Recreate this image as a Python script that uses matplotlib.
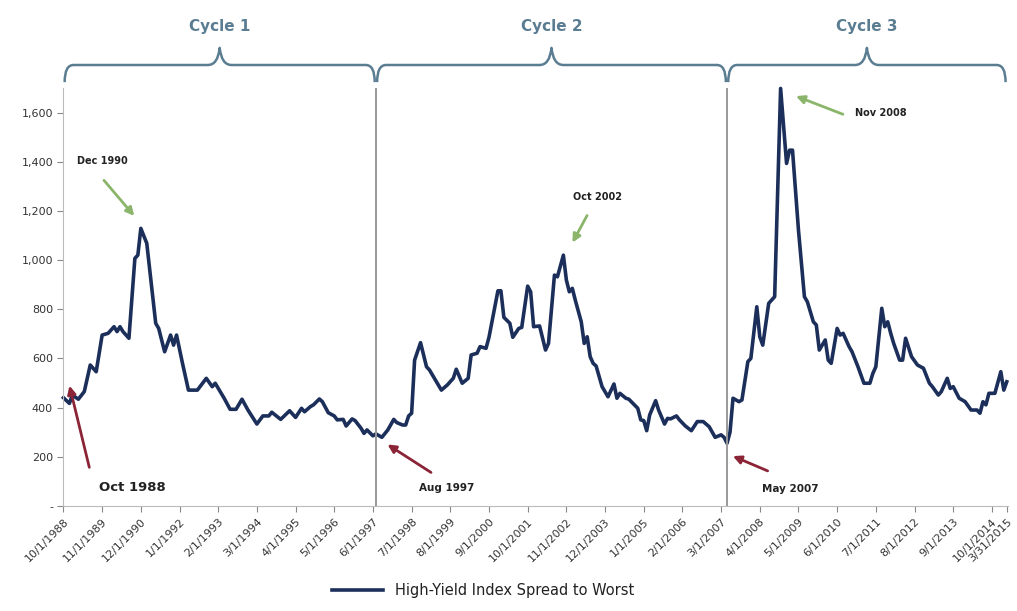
import numpy as np
import matplotlib
matplotlib.use("Agg")
import matplotlib.pyplot as plt
from matplotlib.path import Path
from matplotlib.patches import PathPatch
from matplotlib.transforms import blended_transform_factory

# maanden sinds 10/1988 en spread (bp)
months = [0, 2, 3, 5, 7, 9, 11, 13, 15, 17, 18, 19, 20, 22, 24, 25, 26, 28, 31, 32,
          34, 36, 37, 38, 40, 42, 45, 48, 50, 51, 54, 56, 58, 60, 62, 65, 67, 69, 70, 73,
          76, 78, 80, 81, 83, 84, 86, 87, 89, 91, 92, 94, 95, 97, 98, 100, 101, 102, 104, 105,
          107, 109, 111, 112, 114, 115, 116, 117, 118, 120, 122, 123, 125, 127, 129, 131, 132, 134, 136, 137,
          139, 140, 142, 143, 146, 147, 148, 150, 151, 153, 154, 156, 157, 158, 160, 162, 163, 165, 166, 168,
          169, 170, 171, 172, 174, 175, 176, 177, 178, 179, 181, 183, 185, 186, 187, 189, 190, 193, 194, 195,
          196, 197, 199, 200, 202, 203, 204, 206, 207, 209, 211, 213, 215, 217, 219, 221, 222, 223, 224, 225,
          227, 228, 230, 231, 233, 234, 235, 237, 239, 241, 243, 244, 245, 247, 249, 250, 252, 253, 254, 256,
          257, 258, 260, 261, 262, 264, 265, 267, 269, 271, 272, 273, 275, 276, 277, 278, 279, 281, 282, 283,
          285, 287, 289, 291, 292, 294, 295, 297, 298, 299, 301, 303, 305, 307, 308, 309, 310, 311, 313, 315,
          316, 317]
spread = [440, 417, 451, 434, 465, 573, 546, 695, 702, 729, 709, 729, 709, 682, 1007, 1020, 1129, 1068, 743, 722,
          627, 695, 654, 695, 580, 471, 471, 519, 485, 499, 438, 393, 393, 434, 390, 333, 366, 366, 381, 352,
          387, 360, 397, 383, 404, 411, 435, 424, 379, 366, 350, 352, 325, 354, 347, 316, 295, 309, 285, 293,
          279, 309, 352, 339, 329, 329, 366, 377, 593, 664, 566, 553, 512, 471, 492, 519, 556, 499, 519, 614,
          621, 648, 641, 686, 875, 875, 767, 743, 686, 722, 726, 894, 871, 729, 732, 634, 661, 939, 932, 1020,
          919, 871, 885, 837, 749, 661, 688, 607, 580, 569, 485, 444, 496, 438, 458, 438, 434, 397, 350, 347,
          306, 370, 428, 390, 333, 356, 354, 366, 350, 325, 306, 343, 343, 322, 279, 289, 279, 255, 300, 438,
          424, 431, 587, 600, 810, 688, 654, 824, 851, 1698, 1393, 1447, 1447, 1122, 851, 830, 749, 736, 634, 675,
          593, 580, 722, 695, 702, 648, 627, 566, 499, 499, 539, 566, 804, 729, 749, 702, 661, 593, 593, 682,
          607, 573, 560, 499, 485, 451, 465, 519, 478, 485, 438, 424, 390, 390, 377, 424, 411, 458, 458, 546,
          471, 505]

tick_months = [0, 13, 26, 39, 52, 65, 78, 91, 104, 117, 130, 143, 156, 169, 182, 195, 208,
               221, 234, 247, 260, 273, 286, 299, 312, 317]
tick_labels = ["10/1/1988", "11/1/1989", "12/1/1990", "1/1/1992", "2/1/1993", "3/1/1994",
               "4/1/1995", "5/1/1996", "6/1/1997", "7/1/1998", "8/1/1999", "9/1/2000",
               "10/1/2001", "11/1/2002", "12/1/2003", "1/1/2005", "2/1/2006", "3/1/2007",
               "4/1/2008", "5/1/2009", "6/1/2010", "7/1/2011", "8/1/2012", "9/1/2013",
               "10/1/2014", "3/31/2015"]

cycle_names = ["Cycle 1", "Cycle 2", "Cycle 3"]
cycle_bounds = [0, 105, 223, 317]

navy = "#1c2f5a"
slate = "#5b7d92"
green = "#8ab56a"
red = "#8a2436"

fig = plt.figure(figsize=(10.17, 6.11), dpi=100)
ax = fig.add_axes([0.0624, 0.172, 0.929, 0.684])

ax.plot(months, spread, color=navy, lw=2.6, solid_joinstyle="round",
        label="High-Yield Index Spread to Worst", clip_on=False)

ax.set_xlim(0, 317.5)
ax.set_ylim(0, 1700)
ax.set_yticks(range(0, 1601, 200))
ax.set_yticklabels(["-"] + [f"{v:,}" for v in range(200, 1601, 200)])
ax.set_xticks(tick_months)
ax.set_xticklabels(tick_labels, rotation=45, ha="right", rotation_mode="anchor")
ax.tick_params(axis="both", labelsize=8, colors="#888888", labelcolor="#333333", length=4)
for s in ["top", "right"]:
    ax.spines[s].set_visible(False)
for s in ["left", "bottom"]:
    ax.spines[s].set_color("#bbbbbb")

# scheidingslijnen tussen de cycli
for b in cycle_bounds[1:-1]:
    ax.axvline(b, color="#999999", lw=1.4, ymax=1.0)

# accolades boven de cycli
trans = blended_transform_factory(ax.transData, ax.transAxes)
y_end, y_bar, y_tip = 1.014, 1.055, 1.096
for i, name in enumerate(cycle_names):
    x0, x1 = cycle_bounds[i] + 0.4, cycle_bounds[i + 1] - 0.4
    mid = (x0 + x1) / 2
    c = 3.0
    t = 4.0
    verts = [(x0, y_end), (x0, y_bar), (x0 + c, y_bar),
             (mid - t, y_bar), (mid - 0.6, y_bar), (mid, y_tip),
             (mid + 0.6, y_bar), (mid + t, y_bar),
             (x1 - c, y_bar), (x1, y_bar), (x1, y_end)]
    codes = [Path.MOVETO, Path.CURVE3, Path.CURVE3,
             Path.LINETO, Path.CURVE3, Path.CURVE3,
             Path.CURVE3, Path.CURVE3,
             Path.LINETO, Path.CURVE3, Path.CURVE3]
    patch = PathPatch(Path(verts, codes), transform=trans, fill=False,
                      edgecolor=slate, lw=1.8, clip_on=False, joinstyle="round")
    ax.add_patch(patch)
    ax.text(mid, 1.146, name, transform=trans, ha="center", va="center",
            fontsize=11, fontweight="bold", color=slate, clip_on=False)

# pieken (groen) en dalen (rood)
peaks = [("Dec 1990", (24.4, 1171), (13, 1333), (13, 1405), "center"),
         ("Oct 2002", (170.6, 1061), (176.4, 1191), (179.4, 1256), "center"),
         ("Nov 2008", (245.3, 1671), (262.8, 1589), (266, 1598), "left")]
for label, tip, tail, pos, ha in peaks:
    ax.annotate("", xy=tip, xytext=tail,
                arrowprops=dict(arrowstyle="-|>", color=green, lw=2, mutation_scale=12))
    ax.text(pos[0], pos[1], label, fontsize=7, fontweight="bold", color="#222222",
            ha=ha, va="center")

troughs = [("Oct 1988", (1.8, 500), (8.9, 146), (12, 73), 9.5, "left"),
           ("Aug 1997", (108.1, 256), (124.3, 130), (128.8, 73), 7.5, "center"),
           ("May 2007", (224.1, 207), (237.5, 138), (244.3, 69), 7.5, "center")]
for label, tip, tail, pos, fs, ha in troughs:
    ax.annotate("", xy=tip, xytext=tail,
                arrowprops=dict(arrowstyle="-|>", color=red, lw=2, mutation_scale=12))
    ax.text(pos[0], pos[1], label, fontsize=fs, fontweight="bold", color="#222222",
            ha=ha, va="center")

fig.legend(loc="lower center", bbox_to_anchor=(0.475, 0.0), frameon=False,
           fontsize=10.5, handlelength=3.5, labelcolor="#222222")

fig.savefig("out.png", dpi=100, facecolor="white")
